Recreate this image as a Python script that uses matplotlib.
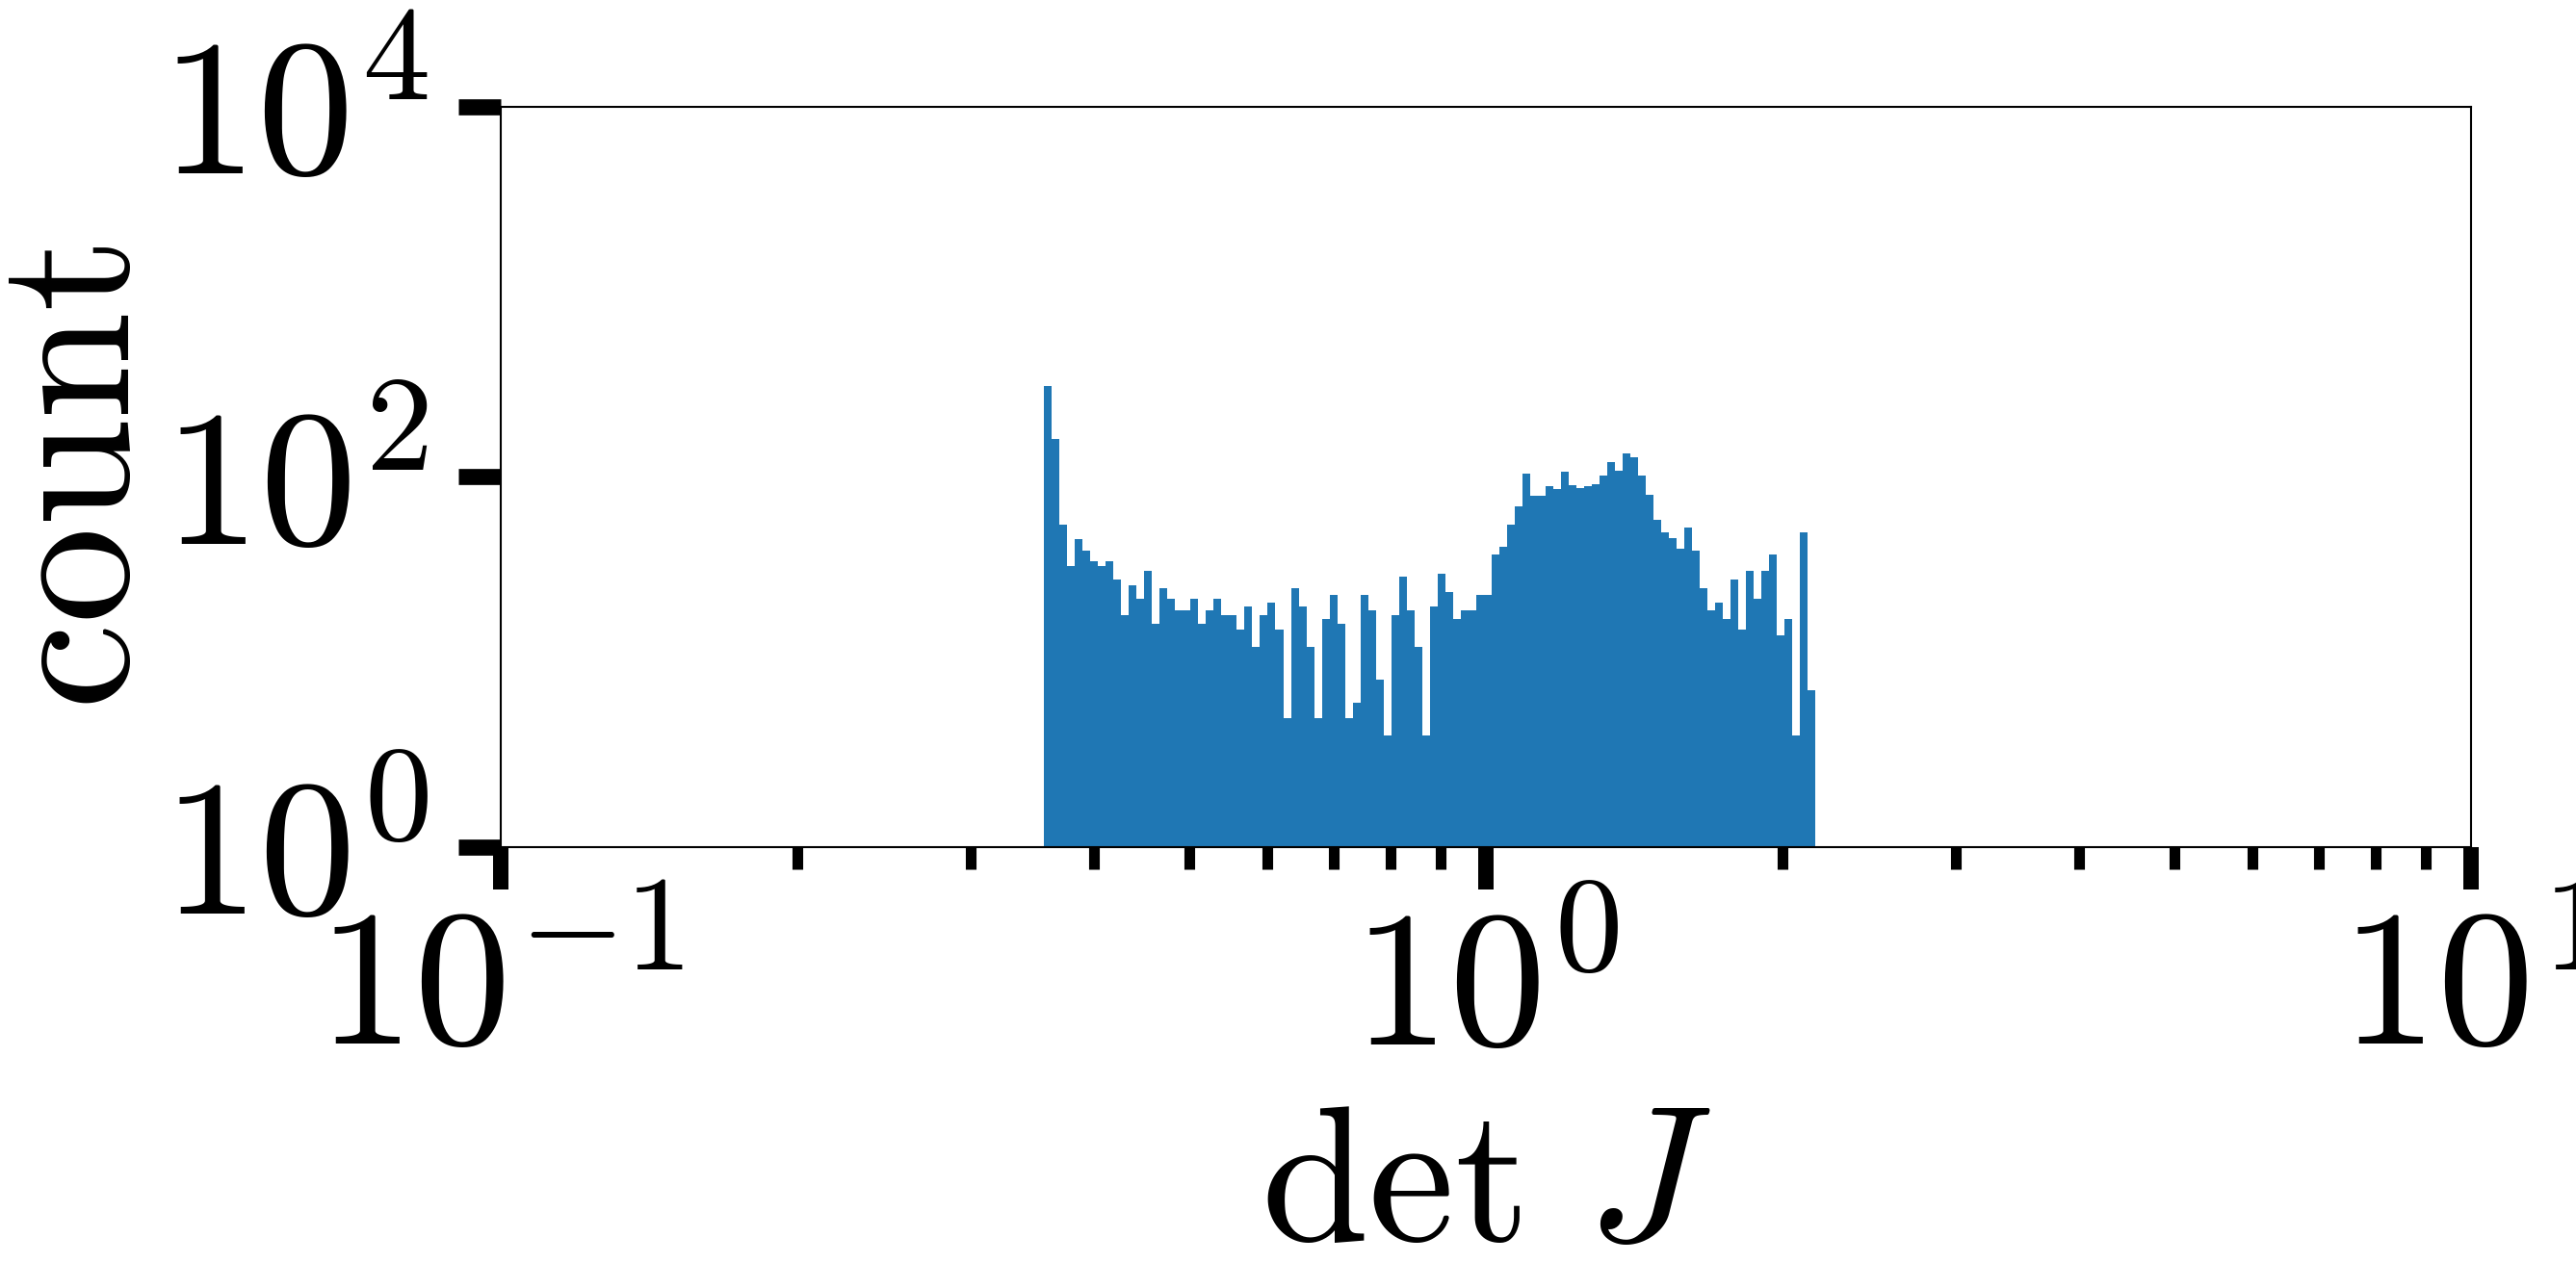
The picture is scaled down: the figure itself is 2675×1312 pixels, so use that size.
import numpy as np
import matplotlib
matplotlib.use("Agg")
import matplotlib.pyplot as plt

# histogram of det J, log-spaced bins (edges)
bin_lo = 0.356
bin_hi = 2.16
n_bins = 100

counts = [310, 160, 55, 33, 46, 40, 35, 33, 35, 28,
          18, 26, 22, 31, 16, 25, 22, 19, 19, 22,
          16, 19, 22, 18, 18, 15, 20, 12, 18, 21,
          15, 5, 25, 20, 12, 5, 17, 23, 16, 5,
          6, 23, 19, 8, 4, 18, 29, 19, 12, 4,
          20, 30, 24, 17, 19, 19, 23, 23, 38, 42,
          55, 69, 104, 79, 79, 89, 86, 107, 90, 87,
          89, 91, 102, 120, 108, 134, 128, 102, 80, 59,
          50, 47, 41, 53, 40, 25, 19, 21, 17, 28,
          15, 31, 22, 31, 38, 14, 17, 4, 50, 7]

xticks = [0.1, 1.0, 10.0]
xtick_labels = [r'$10^{-1}$', r'$10^{0}$', r'$10^{1}$']
yticks = [1, 100, 10000]
ytick_labels = [r'$10^{0}$', r'$10^{2}$', r'$10^{4}$']

plt.rcParams['mathtext.fontset'] = 'cm'
plt.rcParams['font.family'] = 'serif'
plt.rcParams['font.serif'] = ['cmr10', 'DejaVu Serif']
plt.rcParams['font.size'] = 145

fig = plt.figure(figsize=(26.75, 13.12), dpi=100)
ax = fig.add_subplot(1, 1, 1)
fig.subplots_adjust(left=0.1944, right=0.9593, top=0.9154, bottom=0.3293)

edges = np.geomspace(bin_lo, bin_hi, n_bins + 1)
centers = np.sqrt(edges[:-1] * edges[1:])
ax.hist(centers, bins=edges, weights=counts, color='#1f77b4')

ax.set_xscale('log')
ax.set_yscale('log')
ax.set_xlim(0.1, 10)
ax.set_ylim(1, 1e4)

ax.set_xticks(xticks, xtick_labels)
ax.set_yticks(yticks, ytick_labels)
ax.yaxis.set_minor_locator(matplotlib.ticker.NullLocator())
ax.xaxis.set_minor_locator(matplotlib.ticker.LogLocator(base=10, subs=np.arange(2, 10)))
ax.xaxis.set_minor_formatter(matplotlib.ticker.NullFormatter())

ax.tick_params(axis='x', which='major', length=32, width=11.5, pad=15)
ax.tick_params(axis='x', which='minor', length=16.5, width=8)
ax.tick_params(axis='y', which='major', length=32, width=12, pad=22)

for s in ax.spines.values():
    s.set_linewidth(1.5)

ax.set_xlabel(r'$\mathrm{det}\ J$', labelpad=18)
ax.set_ylabel(r'$\mathrm{count}$', labelpad=-5)

fig.savefig('out.png', dpi=100)
